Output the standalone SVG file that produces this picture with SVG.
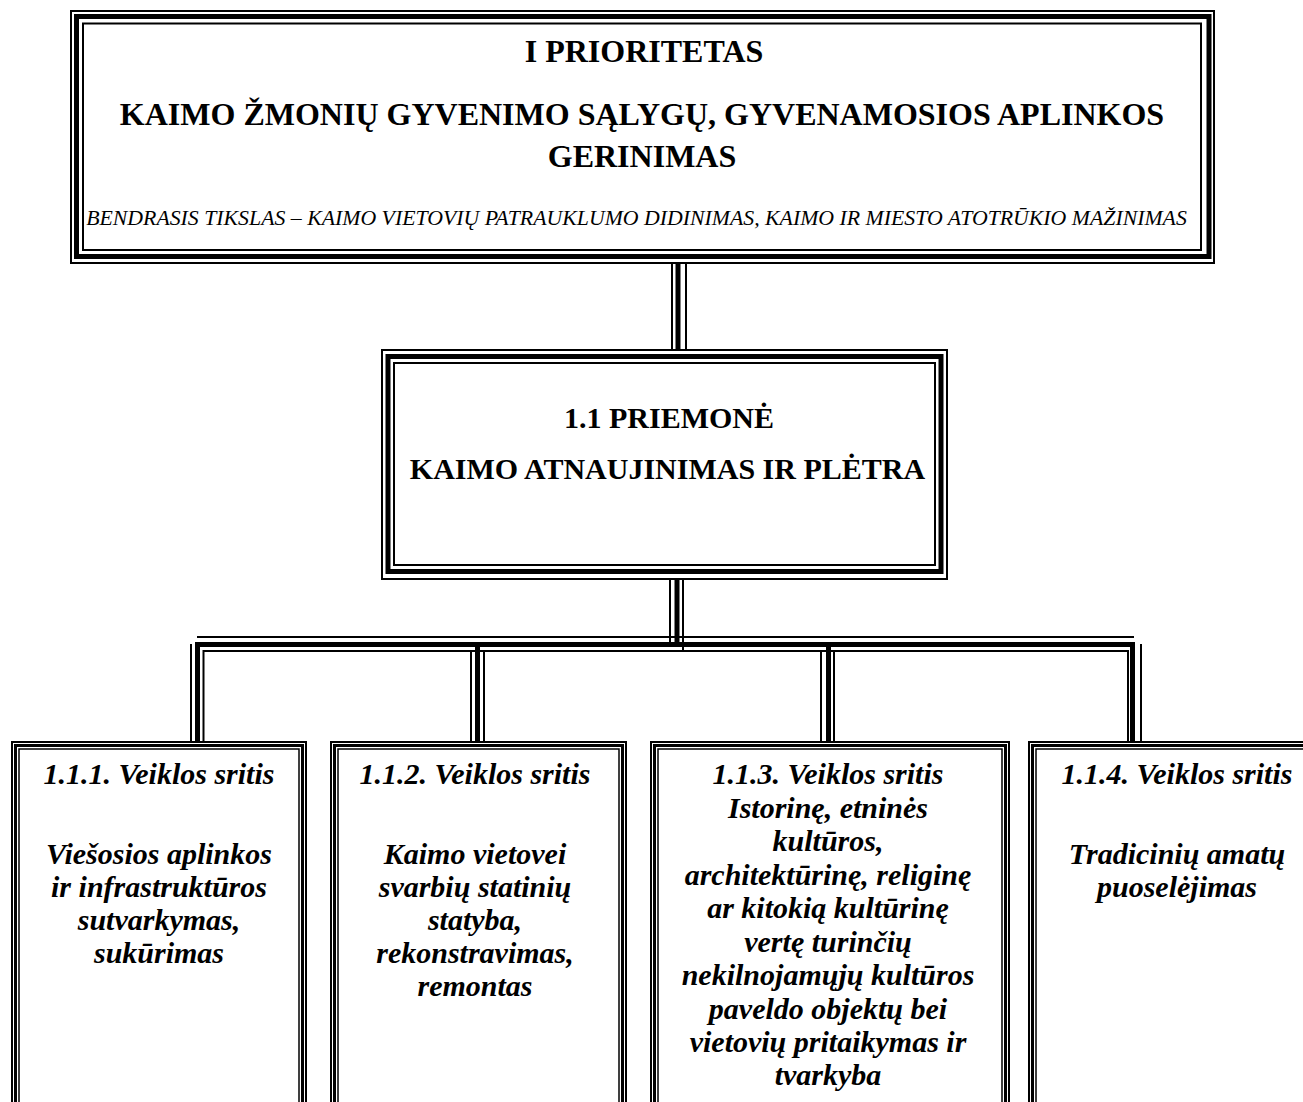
<svg xmlns="http://www.w3.org/2000/svg" width="1303" height="1102" viewBox="0 0 1303 1102" font-family="'Liberation Serif', 'Times New Roman', Tinos, 'DejaVu Serif', serif">
<style>
.bg{fill:#fff}
.t{fill:none;stroke:#000;stroke-width:2}
.k{fill:none;stroke:#000;stroke-width:5}
.t2{fill:none;stroke:#000;stroke-width:2}
.k2{fill:none;stroke:#000;stroke-width:3}
.t3{fill:none;stroke:#000;stroke-width:1.5}
text{font-family:'Liberation Serif','Times New Roman',Tinos,'DejaVu Serif',serif;fill:#000;text-anchor:middle}
.h1{font-size:32px;font-weight:bold}
.h2{font-size:21.8px;font-style:italic}
.m{font-size:30px;font-weight:bold}
.s{font-size:30px;font-weight:bold;font-style:italic}
</style>
<rect class="bg" x="0" y="0" width="1303" height="1102"/>
<g id="connectors">
  <line class="t" x1="672" y1="262" x2="672" y2="351"/>
  <line class="k" x1="678" y1="262" x2="678" y2="351"/>
  <line class="t" x1="686" y1="262" x2="686" y2="351"/>
  <line class="t" x1="670" y1="578" x2="670" y2="645"/>
  <line class="k" x1="677" y1="578" x2="677" y2="645"/>
  <line class="t" x1="683" y1="578" x2="683" y2="650"/>
  <line class="t" x1="197" y1="637" x2="1134" y2="637"/>
  <line class="k" x1="195" y1="644.5" x2="1135" y2="644.5"/>
  <line class="t" x1="203" y1="651" x2="1129" y2="651"/>
  <line class="t" x1="191" y1="644" x2="191" y2="742"/>
  <line class="k" x1="197.5" y1="642" x2="197.5" y2="742"/>
  <line class="t" x1="203.5" y1="650" x2="203.5" y2="742"/>
  <line class="t" x1="471" y1="650" x2="471" y2="742"/>
  <line class="k" x1="477.5" y1="646" x2="477.5" y2="742"/>
  <line class="t" x1="484" y1="650" x2="484" y2="742"/>
  <line class="t" x1="821" y1="650" x2="821" y2="742"/>
  <line class="k" x1="828.5" y1="646" x2="828.5" y2="742"/>
  <line class="t" x1="834" y1="650" x2="834" y2="742"/>
  <line class="t" x1="1128" y1="650" x2="1128" y2="742"/>
  <line class="k" x1="1132.5" y1="642" x2="1132.5" y2="742"/>
  <line class="t" x1="1141" y1="644" x2="1141" y2="742"/>
</g>
<g id="node-priority">
  <rect class="bg" x="71" y="11" width="1143" height="252"/>
  <rect class="t" x="71" y="11" width="1143" height="252"/>
  <rect class="k" x="76.5" y="16.5" width="1132.5" height="240"/>
  <rect class="t" x="83" y="23.5" width="1118" height="226.5"/>
  <text class="h1" x="644" y="62">I PRIORITETAS</text>
  <text class="h1" x="642" y="125">KAIMO ŽMONIŲ GYVENIMO SĄLYGŲ, GYVENAMOSIOS APLINKOS</text>
  <text class="h1" x="642" y="167">GERINIMAS</text>
  <text class="h2" x="636.5" y="225">BENDRASIS TIKSLAS – KAIMO VIETOVIŲ PATRAUKLUMO DIDINIMAS, KAIMO IR MIESTO ATOTRŪKIO MAŽINIMAS</text>
</g>
<g id="node-measure">
  <rect class="bg" x="382" y="350" width="565" height="229"/>
  <rect class="t" x="382" y="350" width="565" height="229"/>
  <rect class="k" x="388" y="356.5" width="553" height="215"/>
  <rect class="t" x="394" y="363" width="541" height="202"/>
  <text class="m" x="669" y="428">1.1 PRIEMONĖ</text>
  <text class="m" x="667.5" y="479">KAIMO ATNAUJINIMAS IR PLĖTRA</text>
</g>
<g id="node-111">
  <rect class="bg" x="12" y="742" width="294" height="380"/>
  <rect class="t2" x="12" y="742" width="294" height="380"/>
  <rect class="k2" x="15.5" y="745.5" width="287" height="380"/>
  <rect class="t3" x="19" y="749" width="280" height="380"/>
  <text class="s" x="159" y="784">1.1.1. Veiklos sritis</text>
  <text class="s" x="159" y="864">Viešosios aplinkos</text>
  <text class="s" x="159" y="897">ir infrastruktūros</text>
  <text class="s" x="159" y="930">sutvarkymas,</text>
  <text class="s" x="159" y="963">sukūrimas</text>
</g>
<g id="node-112">
  <rect class="bg" x="331" y="742" width="295" height="380"/>
  <rect class="t2" x="331" y="742" width="295" height="380"/>
  <rect class="k2" x="334.5" y="745.5" width="288" height="380"/>
  <rect class="t3" x="338" y="749" width="281" height="380"/>
  <text class="s" x="475" y="784">1.1.2. Veiklos sritis</text>
  <text class="s" x="475" y="864">Kaimo vietovei</text>
  <text class="s" x="475" y="897">svarbių statinių</text>
  <text class="s" x="475" y="930">statyba,</text>
  <text class="s" x="475" y="963">rekonstravimas,</text>
  <text class="s" x="475" y="996">remontas</text>
</g>
<g id="node-113">
  <rect class="bg" x="651" y="742" width="358" height="380"/>
  <rect class="t2" x="651" y="742" width="358" height="380"/>
  <rect class="k2" x="654.5" y="745.5" width="351" height="380"/>
  <rect class="t3" x="658" y="749" width="344" height="380"/>
  <text class="s" x="828" y="784">1.1.3. Veiklos sritis</text>
  <text class="s" x="828" y="818">Istorinę, etninės</text>
  <text class="s" x="828" y="851">kultūros,</text>
  <text class="s" x="828" y="885">architektūrinę, religinę</text>
  <text class="s" x="828" y="918">ar kitokią kultūrinę</text>
  <text class="s" x="828" y="952">vertę turinčių</text>
  <text class="s" x="828" y="985">nekilnojamųjų kultūros</text>
  <text class="s" x="828" y="1019">paveldo objektų bei</text>
  <text class="s" x="828" y="1052">vietovių pritaikymas ir</text>
  <text class="s" x="828" y="1085">tvarkyba</text>
</g>
<g id="node-114">
  <rect class="bg" x="1029" y="742" width="300" height="380"/>
  <rect class="t2" x="1029" y="742" width="300" height="380"/>
  <rect class="k2" x="1032.5" y="745.5" width="300" height="380"/>
  <rect class="t3" x="1036" y="749" width="300" height="380"/>
  <text class="s" x="1177" y="784">1.1.4. Veiklos sritis</text>
  <text class="s" x="1177" y="864">Tradicinių amatų</text>
  <text class="s" x="1177" y="897">puoselėjimas</text>
</g>
</svg>
